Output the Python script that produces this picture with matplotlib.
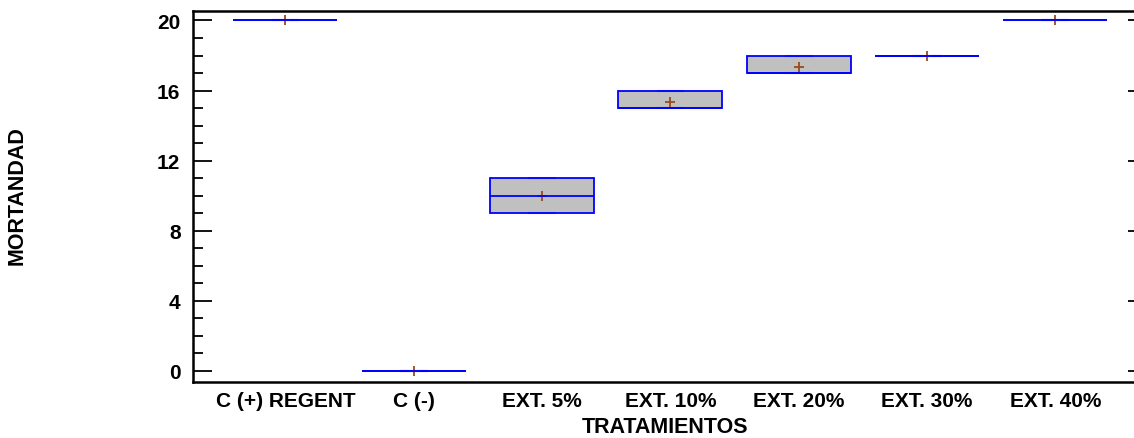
import numpy as np
import matplotlib
matplotlib.use("Agg")
import matplotlib.pyplot as plt
from matplotlib import cbook
from matplotlib.ticker import MultipleLocator

plt.rcParams['font.family'] = ['Liberation Sans', 'DejaVu Sans']

# Mortality per treatment (replicates)
categories = ["C (+) REGENT", "C (-)", "EXT. 5%", "EXT. 10%", "EXT. 20%", "EXT. 30%", "EXT. 40%"]
c_pos = [20, 20, 20]
c_neg = [0, 0, 0]
ext_5 = [9, 10, 11]
ext_10 = [15, 15, 16]
ext_20 = [17, 17, 18]
ext_30 = [18, 18, 18]
ext_40 = [20, 20, 20]
groups = [c_pos, c_neg, ext_5, ext_10, ext_20, ext_30, ext_40]
y_ticks = [0, 4, 8, 12, 16, 20]

# Box statistics: hinges use lower/upper order statistics, whiskers span min-max
stats = []
for g, lab in zip(groups, categories):
    s = cbook.boxplot_stats(np.asarray(g, float), whis=(0, 100), labels=[lab])[0]
    s['q1'] = np.percentile(g, 25, method='lower')
    s['q3'] = np.percentile(g, 75, method='higher')
    s['med'] = np.median(g)
    s['fliers'] = []
    stats.append(s)

fig = plt.figure(figsize=(11.34, 4.39), dpi=100)
top_px, bot_px = 11.5, 382.5
ax = fig.add_axes([193/1134, 1 - bot_px/439, (1134 - 193)/1134 + 0.002, (bot_px - top_px)/439])

pos = np.arange(len(categories))
ax.bxp(stats, positions=pos, widths=0.81, patch_artist=True, showmeans=True,
       showcaps=True,
       boxprops=dict(facecolor='#c0c0c0', edgecolor='#0000ff', linewidth=1.3, zorder=2),
       medianprops=dict(color='#0000ff', linewidth=1.3, zorder=3),
       whiskerprops=dict(color='#0000ff', linewidth=1.0, alpha=0.5),
       capprops=dict(color='#0000ff', linewidth=1.5, alpha=0.5),
       capwidths=0.2,
       meanprops=dict(marker='+', markeredgecolor='#9a4a1c', markersize=7,
                      markeredgewidth=1.3, zorder=2.5))

ax.set_xlim(-0.72, 6.63)
ax.set_ylim(-0.6, 20.57)
ax.set_yticks(y_ticks)
ax.yaxis.set_minor_locator(MultipleLocator(1))
ax.set_xticks(pos)
ax.set_xticklabels(categories, fontsize=15, fontweight='bold')
ax.set_yticklabels([str(t) for t in y_ticks], fontsize=15, fontweight='bold')
ax.tick_params(axis='x', length=0, pad=7)
ax.tick_params(axis='y', which='major', direction='in', length=14, width=1.3, pad=9)
ax.tick_params(axis='y', which='minor', direction='in', length=7, width=1.3)

for side in ['left', 'top', 'bottom']:
    ax.spines[side].set_linewidth(1.8)
ax.spines['right'].set_visible(False)

# Short inward ticks on the right edge at the major positions
ax2 = ax.twinx()
ax2.set_ylim(ax.get_ylim())
ax2.set_yticks(y_ticks)
ax2.set_yticklabels([])
ax2.tick_params(axis='y', direction='in', length=6, width=1.3)
for side in ['left', 'top', 'bottom', 'right']:
    ax2.spines[side].set_visible(False)

ax.set_xlabel("TRATAMIENTOS", fontsize=15.5, fontweight='bold', labelpad=4)
fig.text(17/1134, 1 - 196/439, "MORTANDAD", rotation=90, fontsize=15.5,
         fontweight='bold', ha='center', va='center')

fig.savefig("out.png", dpi=100)
